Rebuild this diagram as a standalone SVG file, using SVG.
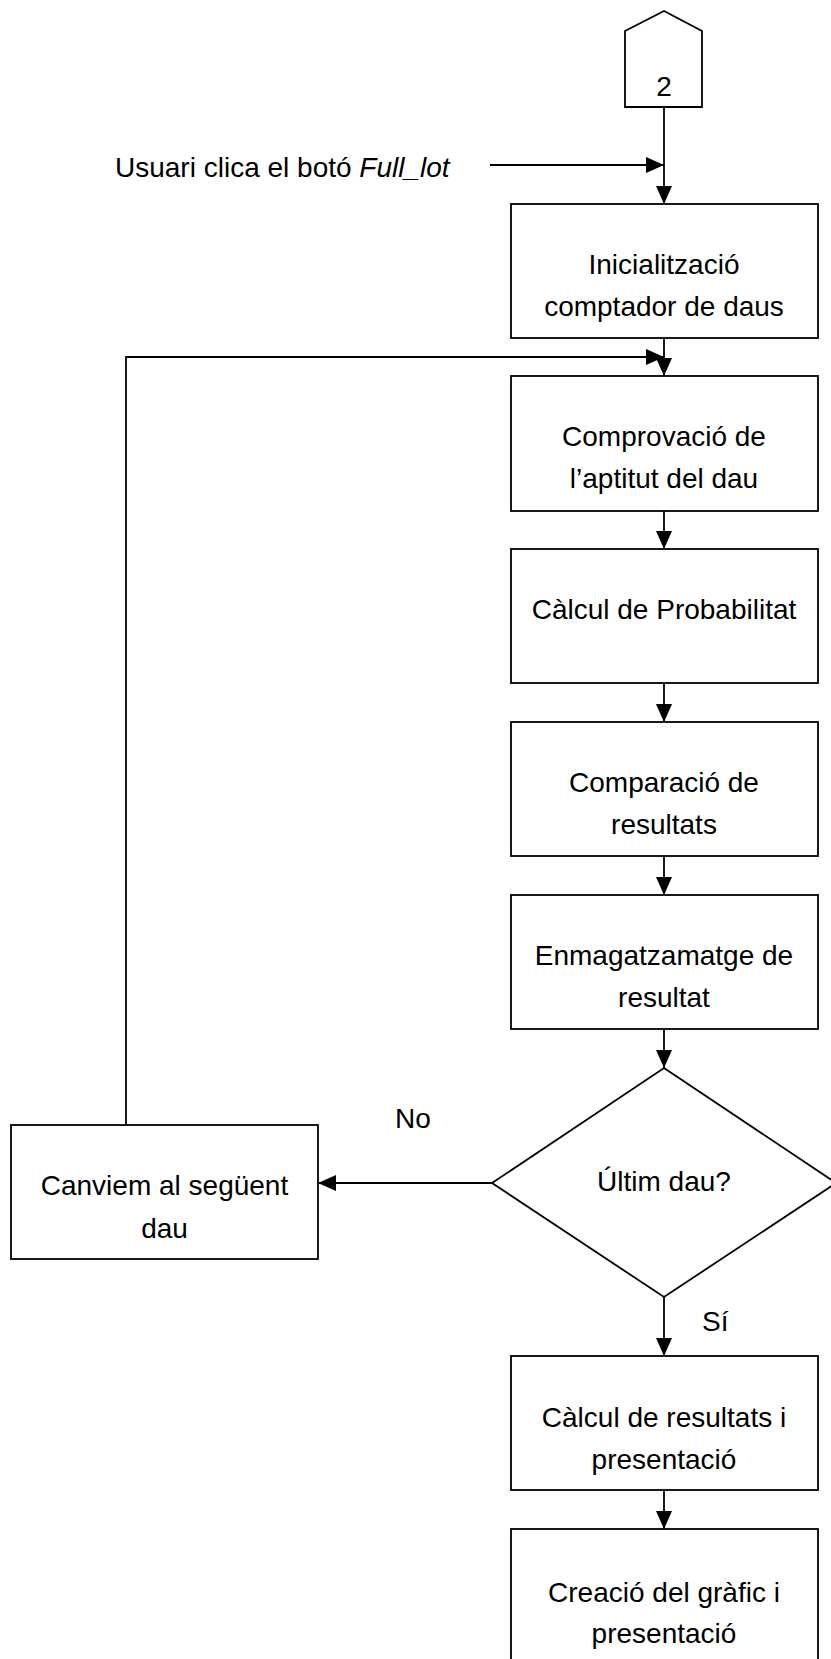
<svg xmlns="http://www.w3.org/2000/svg" width="831" height="1659" viewBox="0 0 831 1659">
<style>
.n{fill:#fff;stroke:#000;stroke-width:1.8}
.t{font-family:"Liberation Sans",Arial,sans-serif;font-size:28px;fill:#000;text-anchor:middle}
.l{font-family:"Liberation Sans",Arial,sans-serif;font-size:28px;fill:#000}
.c{fill:none;stroke:#000;stroke-width:1.8}
</style>
<defs>
<marker id="ah" markerWidth="18" markerHeight="16" refX="18" refY="8" orient="auto" markerUnits="userSpaceOnUse"><path d="M0,0 L18,8 L0,16 Z" fill="#000"/></marker>
</defs>
<rect width="831" height="1659" fill="#fff"/>
<g id="connectors">
<path class="c" d="M664,107 V204" marker-end="url(#ah)"/>
<path class="c" d="M490,165 H664" marker-end="url(#ah)"/>
<path class="c" d="M664,338 V376" marker-end="url(#ah)"/>
<path class="c" d="M126,1125 V357 H664" marker-end="url(#ah)"/>
<path class="c" d="M664,511 V549" marker-end="url(#ah)"/>
<path class="c" d="M664,683 V722" marker-end="url(#ah)"/>
<path class="c" d="M664,856 V895" marker-end="url(#ah)"/>
<path class="c" d="M664,1029 V1068" marker-end="url(#ah)"/>
<path class="c" d="M492,1183 H318" marker-end="url(#ah)"/>
<path class="c" d="M664,1297 V1356" marker-end="url(#ah)"/>
<path class="c" d="M664,1490 V1529" marker-end="url(#ah)"/>
<text class="t" x="413" y="1128">No</text>
<text class="l" x="702" y="1331">Sí</text>
</g>
<g id="start-label">
<text class="l" x="115" y="177">Usuari clica el botó <tspan font-style="italic">Full_lot</tspan></text>
</g>
<g id="connector-2">
<polygon class="n" points="625,31 664,11 702,31 702,107 625,107"/>
<text class="t" x="664" y="96">2</text>
</g>
<g id="init">
<rect class="n" x="511" y="204" width="307" height="134"/>
<text class="t" x="664" y="274">Inicialització</text>
<text class="t" x="664" y="316">comptador de daus</text>
</g>
<g id="check">
<rect class="n" x="511" y="376" width="307" height="135"/>
<text class="t" x="664" y="446">Comprovació de</text>
<text class="t" x="664" y="488">l’aptitut del dau</text>
</g>
<g id="prob">
<rect class="n" x="511" y="549" width="307" height="134"/>
<text class="t" x="664" y="619">Càlcul de Probabilitat</text>
</g>
<g id="compare">
<rect class="n" x="511" y="722" width="307" height="134"/>
<text class="t" x="664" y="792">Comparació de</text>
<text class="t" x="664" y="834">resultats</text>
</g>
<g id="store">
<rect class="n" x="511" y="895" width="307" height="134"/>
<text class="t" x="664" y="965">Enmagatzamatge de</text>
<text class="t" x="664" y="1007">resultat</text>
</g>
<g id="decision">
<polygon class="n" points="664,1068 836,1183 664,1297 492,1183"/>
<text class="t" x="664" y="1191">Últim dau?</text>
</g>
<g id="next">
<rect class="n" x="11" y="1125" width="307" height="134"/>
<text class="t" x="164.5" y="1195">Canviem al següent</text>
<text class="t" x="164.5" y="1238">dau</text>
</g>
<g id="results">
<rect class="n" x="511" y="1356" width="307" height="134"/>
<text class="t" x="664" y="1427">Càlcul de resultats i</text>
<text class="t" x="664" y="1469">presentació</text>
</g>
<g id="chart">
<rect class="n" x="511" y="1529" width="307" height="134"/>
<text class="t" x="664" y="1602">Creació del gràfic i</text>
<text class="t" x="664" y="1643">presentació</text>
</g>
</svg>
